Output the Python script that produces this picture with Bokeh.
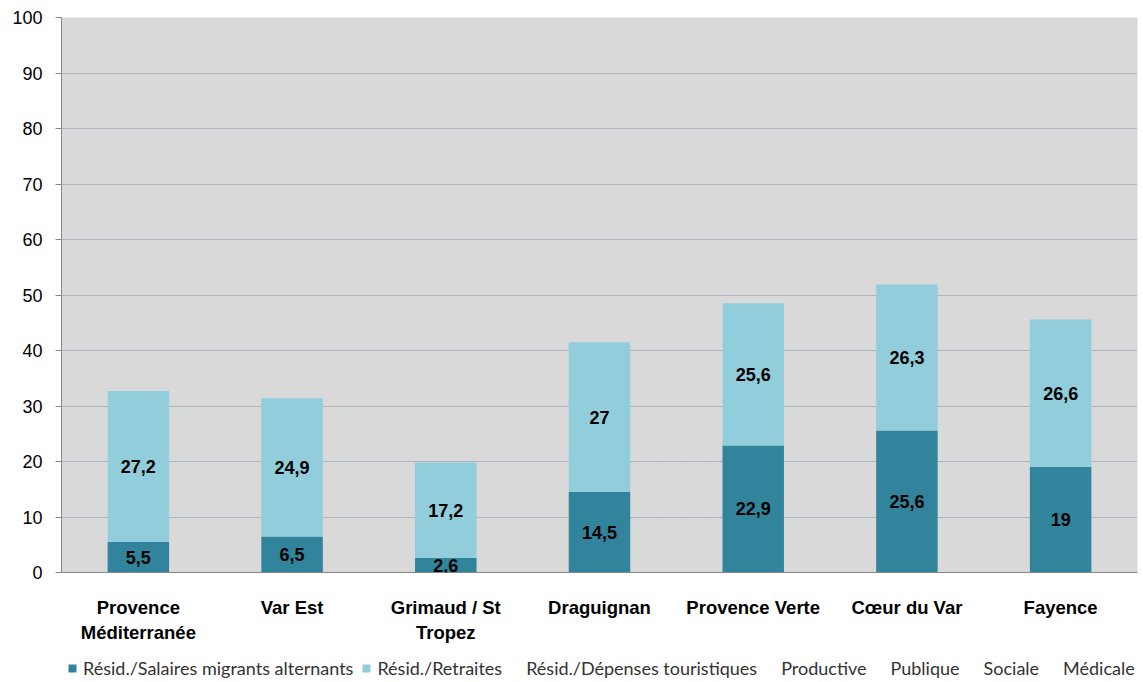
from bokeh.plotting import figure
from bokeh.layouts import column
from bokeh.models import ColumnDataSource, LabelSet, Legend, LegendItem, SingleIntervalTicker
from bokeh.core.properties import value
from bokeh.embed import file_html
from bokeh.resources import INLINE

categories = ["Provence\nMéditerranée", "Var Est", "Grimaud / St\nTropez", "Draguignan",
              "Provence Verte", "Cœur du Var", "Fayence"]
salaires = [5.5, 6.5, 2.6, 14.5, 22.9, 25.6, 19.0]
retraites = [27.2, 24.9, 17.2, 27.0, 25.6, 26.3, 26.6]
touristiques = [0, 0, 0, 0, 0, 0, 0]
productive = [0, 0, 0, 0, 0, 0, 0]
publique = [0, 0, 0, 0, 0, 0, 0]
sociale = [0, 0, 0, 0, 0, 0, 0]
medicale = [0, 0, 0, 0, 0, 0, 0]
series_names = ["Résid./Salaires migrants alternants", "Résid./Retraites",
                "Résid./Dépenses touristiques", "Productive", "Publique", "Sociale", "Médicale"]
colors = ["#31849B", "#92CDDC", None, None, None, None, None]

def fmt(v):
    return ("%g" % v).replace(".", ",")

keys = ["s1", "s2", "s3", "s4", "s5", "s6", "s7"]
data = dict(cat=categories, s1=salaires, s2=retraites, s3=touristiques, s4=productive,
            s5=publique, s6=sociale, s7=medicale)
data["y1"] = [v / 2 for v in salaires]
data["y2"] = [a + b / 2 for a, b in zip(salaires, retraites)]
data["t1"] = [fmt(v) for v in salaires]
data["t2"] = [fmt(v) for v in retraites]
source = ColumnDataSource(data)
fills = ["#31849B", "#92CDDC", None, None, None, None, None]

p = figure(x_range=categories, y_range=(0, 100), width=1143, height=650,
           output_backend="svg", toolbar_location=None,
           min_border_left=61, min_border_right=6, min_border_top=17, min_border_bottom=78)
p.background_fill_color = "#D9D9D9"
p.border_fill_color = "white"
p.outline_line_color = None

renderers = p.vbar_stack(keys, x="cat", width=0.4, source=source,
                         fill_color=fills, line_color=None)
for r, c in zip(renderers, colors):
    if c is None:
        r.glyph.fill_alpha = 0

lbl_font = "Liberation Sans"
for yk, tk in (("y1", "t1"), ("y2", "t2")):
    ls = LabelSet(x="cat", y=yk, text=tk, source=source, text_align="center",
                  text_baseline="middle", text_font_size=value("18px"),
                  text_font_style=value("bold"), text_color=value("black"),
                  text_font=value(lbl_font))
    p.add_layout(ls)

p.yaxis.ticker = SingleIntervalTicker(interval=10)
p.yaxis.major_label_text_font = "Liberation Sans"
p.yaxis.major_label_text_font_size = "18px"
p.yaxis.major_label_text_color = "black"
p.yaxis.axis_line_color = "#868686"
p.yaxis.major_tick_line_color = "#868686"
p.yaxis.major_tick_in = 0
p.yaxis.major_tick_out = 6
p.yaxis.minor_tick_line_color = None
p.yaxis.major_label_standoff = 13

p.xaxis.major_label_text_font = lbl_font
p.xaxis.major_label_text_font_size = "18.5px"
p.xaxis.major_label_text_font_style = "bold"
p.xaxis.major_label_text_color = "black"
p.xaxis.major_label_text_line_height = 1.22
p.xaxis.axis_line_color = "#868686"
p.xaxis.major_tick_line_color = None
p.xaxis.major_label_standoff = 18

p.xgrid.grid_line_color = None
p.ygrid.grid_line_color = "#7F8FA6"
p.ygrid.grid_line_dash = "1 1"
p.ygrid.grid_line_width = 1

# legend strip below the chart
leg = figure(x_range=categories, y_range=(1000, 1001), width=1143, height=32,
             output_backend="svg", toolbar_location=None,
             x_axis_type=None, y_axis_type=None, min_border=0)
leg.outline_line_color = None
leg.background_fill_color = "white"
leg.xgrid.grid_line_color = None
leg.ygrid.grid_line_color = None
leg_rs = leg.vbar_stack(keys, x="cat", width=0.4, source=source,
                        fill_color=fills, line_color=None)
for r, c in zip(leg_rs, colors):
    if c is None:
        r.glyph.fill_alpha = 0

items = [LegendItem(label=n, renderers=[r]) for n, r in zip(series_names, leg_rs)]
legend = Legend(items=items, orientation="horizontal", location=(6, 3),
                label_text_font="Lato", label_text_font_size="18px", label_text_color="#333333",
                glyph_width=10, glyph_height=10, spacing=8, label_standoff=6,
                padding=0, margin=0, border_line_color=None, background_fill_alpha=0)
leg.add_layout(legend, "center")

layout = column(p, leg, spacing=0)
open("out.html", "w").write(file_html(layout, INLINE))
